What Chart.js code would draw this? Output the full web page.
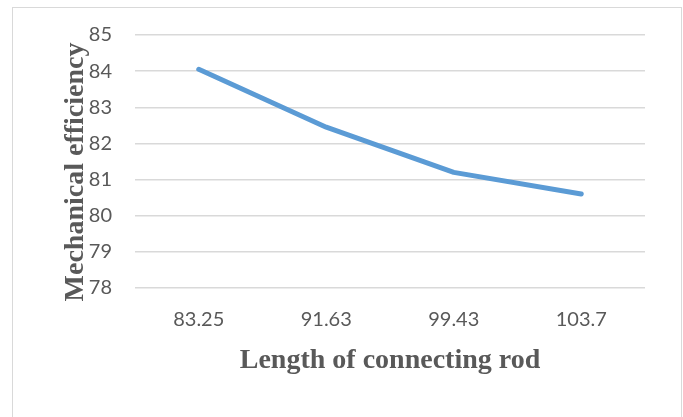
<!DOCTYPE html>
<html>
<head>
<meta charset="utf-8">
<script src="https://cdn.jsdelivr.net/npm/chart.js@4/dist/chart.umd.min.js"></script>
<style>
  html, body { margin: 0; padding: 0; background: #ffffff; }
  #wrap { position: relative; width: 683px; height: 417px; overflow: hidden; }
  #frame { position: absolute; left: 12px; top: 7px; width: 668px; height: 420px; border: 1px solid #d9d9d9; }
  canvas { position: absolute; left: 0; top: 0; }
</style>
</head>
<body>
<div id="wrap">
  <div id="frame"></div>
  <canvas id="chart" width="683" height="417"></canvas>
</div>
<script>
// rod lengths on the x axis
const rodLengths = ['83.25', '91.63', '99.43', '103.7'];
// mechanical efficiency
const efficiency = [84.05, 82.45, 81.2, 80.6];
const yMin = 78;
const yMax = 85;

const xTitle = 'Length of connecting rod';
const yTitle = 'Mechanical efficiency';

const textColor = '#595959';
const titleFont = 'bold 28px "Liberation Serif", "Times New Roman", serif';

// axis titles, placed like the Excel original
const axisTitles = {
  id: 'axisTitles',
  afterDraw(chart) {
    const ctx = chart.ctx;
    const area = chart.chartArea;
    ctx.save();
    ctx.fillStyle = textColor;
    ctx.font = titleFont;
    ctx.textAlign = 'center';
    ctx.textBaseline = 'alphabetic';
    ctx.fillText(xTitle, (area.left + area.right) / 2, 368);
    ctx.translate(83, 172);
    ctx.rotate(-Math.PI / 2);
    ctx.fillText(yTitle, 0, 0);
    ctx.restore();
  }
};

const ctx = document.getElementById('chart').getContext('2d');
new Chart(ctx, {
  type: 'line',
  data: {
    labels: rodLengths,
    datasets: [{
      data: efficiency,
      borderColor: '#5b9bd5',
      backgroundColor: '#5b9bd5',
      borderWidth: 5,
      borderCapStyle: 'round',
      borderJoinStyle: 'round',
      pointRadius: 0,
      tension: 0,
      fill: false
    }]
  },
  options: {
    responsive: false,
    animation: false,
    layout: { padding: { left: 0, right: 38, top: 35, bottom: 0 } },
    plugins: {
      legend: { display: false },
      tooltip: { enabled: false }
    },
    scales: {
      x: {
        offset: true,
        grid: { display: false, drawTicks: false },
        border: { display: false },
        ticks: {
          color: textColor,
          padding: 20,
          font: { family: 'Lato, "Open Sans", sans-serif', size: 20 }
        },
        afterFit(scale) { scale.height = 129; }
      },
      y: {
        min: yMin,
        max: yMax,
        grid: { color: '#d9d9d9', lineWidth: 1.5, drawTicks: false },
        border: { display: false },
        ticks: {
          stepSize: 1,
          color: textColor,
          padding: 23,
          font: { family: 'Lato, "Open Sans", sans-serif', size: 20 }
        },
        afterFit(scale) { scale.width = 135; }
      }
    }
  },
  plugins: [axisTitles]
});
</script>
</body>
</html>
